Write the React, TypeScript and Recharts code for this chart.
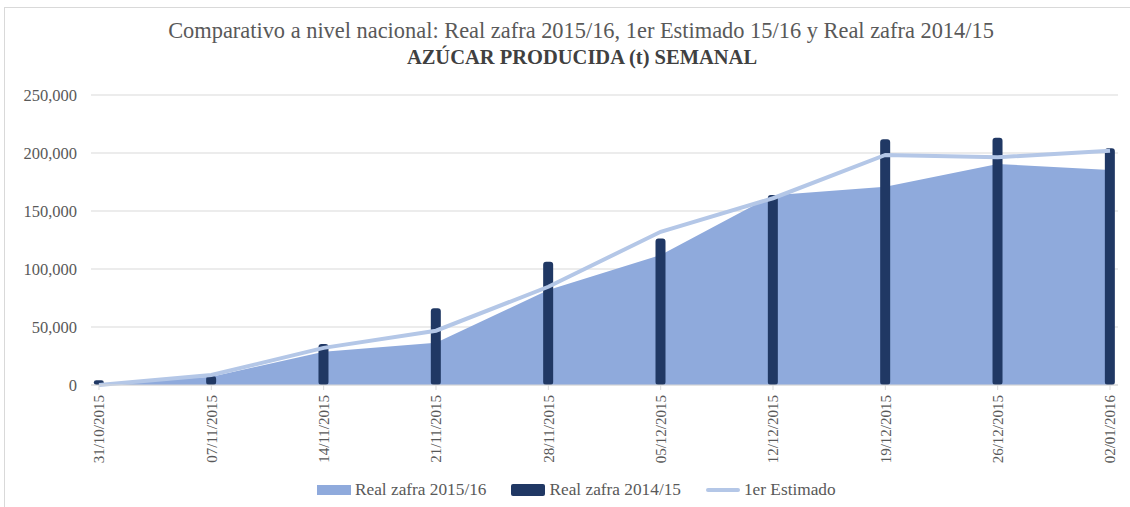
import React from "react";
import {
  ComposedChart,
  Area,
  Bar,
  Line,
  CartesianGrid,
  XAxis,
  YAxis,
} from "recharts";

const fechas = [
  "31/10/2015",
  "07/11/2015",
  "14/11/2015",
  "21/11/2015",
  "28/11/2015",
  "05/12/2015",
  "12/12/2015",
  "19/12/2015",
  "26/12/2015",
  "02/01/2016",
];

// toneladas semanales
const realZafra1516 = [500, 7200, 28700, 36500, 81900, 112100, 163500, 171000, 190500, 185300];
const realZafra1415 = [4200, 7800, 35300, 66100, 106300, 126400, 163800, 211800, 213200, 204000];
const primerEstimado = [0, 8600, 32000, 46800, 84700, 132100, 161000, 198300, 196300, 202000];

const yTicks = [0, 50000, 100000, 150000, 200000, 250000];

const data = fechas.map((f, i) => ({
  idx: i,
  fecha: f,
  real1516: realZafra1516[i],
  real1415: realZafra1415[i],
  estimado: primerEstimado[i],
}));

const FONT = "'Liberation Serif', 'Times New Roman', serif";
const GRIS = "#595959";

const FechaTick = (props: any) => {
  const { x, y, payload } = props;
  return (
    <g transform={`translate(${x},${y + 3})`}>
      <text
        transform="rotate(-90)"
        textAnchor="end"
        dy="0.35em"
        fill={GRIS}
        fontSize={15}
        fontFamily={FONT}
      >
        {fechas[payload.value]}
      </text>
    </g>
  );
};

const legendItems = [
  { label: "Real zafra 2015/16", kind: "area", color: "#8faadc" },
  { label: "Real zafra 2014/15", kind: "bar", color: "#203864" },
  { label: "1er Estimado", kind: "line", color: "#b4c7e7" },
];

const App: React.FC = () => {
  return (
    <div
      style={{
        position: "absolute",
        left: 0,
        top: 0,
        width: 1130,
        height: 507,
        background: "#fff",
        overflow: "hidden",
        fontFamily: FONT,
      }}
    >
      {/* marco del grafico */}
      <div
        style={{
          position: "absolute",
          left: 4,
          top: 7,
          width: 1140,
          height: 520,
          border: "1px solid #d9d9d9",
        }}
      />

      {/* titulo */}
      <div
        style={{
          position: "absolute",
          left: 0,
          top: 17,
          width: 1162,
          textAlign: "center",
          color: GRIS,
          fontSize: 22.4,
          lineHeight: "28px",
          whiteSpace: "nowrap",
        }}
      >
        Comparativo a nivel nacional: Real zafra 2015/16, 1er Estimado 15/16 y Real zafra 2014/15
      </div>
      <div
        style={{
          position: "absolute",
          left: 0,
          top: 44,
          width: 1164,
          textAlign: "center",
          color: "#404040",
          fontSize: 20.5,
          fontWeight: "bold",
          lineHeight: "26px",
          whiteSpace: "nowrap",
        }}
      >
        AZÚCAR PRODUCIDA (t) SEMANAL
      </div>

      <div style={{ position: "absolute", left: 0, top: 0 }}>
        <ComposedChart
          width={1130}
          height={507}
          data={data}
          margin={{ top: 95, right: 12, bottom: 42, left: 0 }}
        >
          <CartesianGrid vertical={false} stroke="#d9d9d9" strokeWidth={1} />
          <XAxis
            dataKey="idx"
            type="number"
            domain={[-0.071, 9.071]}
            ticks={fechas.map((_, i) => i)}
            interval={0}
            height={80}
            stroke="#d9d9d9"
            tickLine={{ stroke: "#d9d9d9" }}
            tickSize={5}
            tick={<FechaTick />}
          />
          <YAxis
            width={91}
            domain={[0, 250000]}
            ticks={yTicks}
            axisLine={false}
            tickLine={false}
            tickSize={0}
            tickMargin={14}
            tick={{ fill: GRIS, fontSize: 16.5, fontFamily: FONT }}
            tickFormatter={(v: number) => v.toLocaleString("en-US")}
          />
          <Area
            dataKey="real1516"
            type="linear"
            fill="#8faadc"
            fillOpacity={1}
            stroke="none"
            isAnimationActive={false}
            dot={false}
            activeDot={false}
          />
          <Bar
            dataKey="real1415"
            fill="#203864"
            barSize={10}
            radius={3}
            isAnimationActive={false}
          />
          <Line
            dataKey="estimado"
            type="linear"
            stroke="#b4c7e7"
            strokeWidth={4}
            dot={false}
            activeDot={false}
            isAnimationActive={false}
          />
        </ComposedChart>
      </div>

      {/* leyenda */}
      <div
        style={{
          position: "absolute",
          top: 480,
          left: 317,
          display: "flex",
          alignItems: "center",
          color: GRIS,
          fontSize: 17.3,
          lineHeight: "20px",
          whiteSpace: "nowrap",
        }}
      >
        {legendItems.map((it) => (
          <div
            key={it.label}
            style={{ display: "flex", alignItems: "center", marginRight: 25 }}
          >
            {it.kind === "line" ? (
              <div
                style={{
                  width: 34,
                  height: 4,
                  borderRadius: 2,
                  background: it.color,
                  marginRight: 4,
                }}
              />
            ) : (
              <div
                style={{
                  width: 34,
                  height: it.kind === "bar" ? 12 : 10,
                  borderRadius: it.kind === "bar" ? 2 : 0,
                  background: it.color,
                  marginRight: 4,
                }}
              />
            )}
            <span>{it.label}</span>
          </div>
        ))}
      </div>
    </div>
  );
};

export default App;
